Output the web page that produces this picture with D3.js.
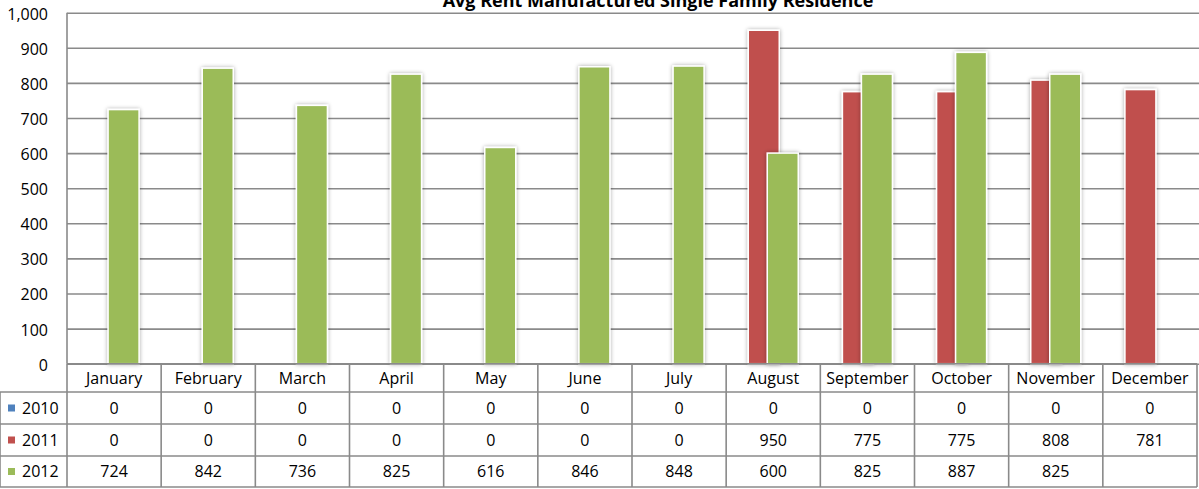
<!DOCTYPE html>
<meta charset="utf-8">
<script src="https://d3js.org/d3.v7.min.js"></script>
<style>
  body { margin: 0; background: #fff; }
  text { font-family: "Open Sans", sans-serif; fill: #000; }
</style>
<div id="chart"></div>
<script>

  // data
  var months = ["January", "February", "March", "April", "May", "June", "July",
    "August", "September", "October", "November", "December"];
  var years = ["2010", "2011", "2012"];
  var rent2010 = [0, 0, 0, 0, 0, 0, 0, 0, 0, 0, 0, 0];
  var rent2011 = [0, 0, 0, 0, 0, 0, 0, 950, 775, 775, 808, 781];
  var rent2012 = [724, 842, 736, 825, 616, 846, 848, 600, 825, 887, 825, null];
  var yTicks = [0, 100, 200, 300, 400, 500, 600, 700, 800, 900, 1000];
  var colors = ["#4F81BD", "#C0504D", "#9BBB59"];

  var series = [rent2010, rent2011, rent2012];

  var W = 1199, H = 489;
  var plotLeft = 67, plotRight = 1197, plotTop = 12.7, plotBottom = 363.7;
  var gridColor = "#8a8a8a";

  var svg = d3.select("#chart").append("svg")
    .attr("width", W)
    .attr("height", H);

  // soft shadow behind bars
  var defs = svg.append("defs");
  var f = defs.append("filter").attr("id", "shadow")
    .attr("x", "-30%").attr("y", "-10%").attr("width", "160%").attr("height", "120%");
  f.append("feGaussianBlur").attr("in", "SourceAlpha").attr("stdDeviation", 2).attr("result", "blur");
  f.append("feComponentTransfer").attr("in", "blur").attr("result", "soft")
    .append("feFuncA").attr("type", "linear").attr("slope", 0.35);
  var merge = f.append("feMerge");
  merge.append("feMergeNode").attr("in", "soft");
  merge.append("feMergeNode").attr("in", "SourceGraphic");

  // scales
  var x = d3.scaleBand().domain(months).range([plotLeft, plotRight]).padding(0);
  var xSeries = d3.scalePoint().domain(years).range([-28.5, 9.5]);
  var barW = 31;
  var y = d3.scaleLinear().domain([0, 1000]).range([plotBottom, plotTop]);

  // gridlines + y labels
  var yAxis = svg.append("g")
    .attr("transform", "translate(" + plotLeft + ",0)")
    .call(d3.axisLeft(y).tickValues(yTicks).tickFormat(d3.format(","))
      .tickSizeInner(-(W - plotLeft)).tickSizeOuter(0).tickPadding(19));
  yAxis.select(".domain").remove();
  yAxis.selectAll(".tick line").attr("stroke", gridColor).attr("stroke-width", 1.6);
  yAxis.selectAll(".tick text")
    .style("font-family", "Open Sans, sans-serif")
    .style("font-size", "16px")
    .attr("fill", "#000")
    .attr("dy", "0.4em");

  // vertical axis line
  svg.append("line")
    .attr("x1", plotLeft).attr("x2", plotLeft)
    .attr("y1", plotTop).attr("y2", plotBottom)
    .attr("stroke", gridColor).attr("stroke-width", 1.6);

  // bars
  series.forEach(function (vals, si) {
    svg.append("g")
      .selectAll("rect")
      .data(vals.map(function (v, i) { return { m: months[i], v: v }; })
        .filter(function (d) { return d.v; }))
      .enter()
      .append("rect")
      .attr("x", function (d) { return x(d.m) + x.bandwidth() / 2 + xSeries(years[si]) - barW / 2; })
      .attr("y", function (d) { return y(d.v); })
      .attr("width", barW)
      .attr("height", function (d) { return y(0) - y(d.v); })
      .attr("fill", colors[si])
      .attr("stroke", "#fff")
      .attr("stroke-width", 1.5)
      .attr("filter", "url(#shadow)");
  });

  // title (cut off at the top, as in the original)
  svg.append("text")
    .attr("x", 658)
    .attr("y", 7)
    .attr("text-anchor", "middle")
    .style("font-weight", "bold")
    .style("font-size", "18px")
    .text("Avg Rent Manufactured Single Family Residence");

  // data table
  var rowEdges = [363.7, 392, 424, 456, 487];
  var table = svg.append("g");
  function hline(x1, x2, yy) {
    table.append("line").attr("x1", x1).attr("x2", x2).attr("y1", yy).attr("y2", yy)
      .attr("stroke", gridColor).attr("stroke-width", 1.6);
  }
  function vline(xx, y1, y2) {
    table.append("line").attr("x1", xx).attr("x2", xx).attr("y1", y1).attr("y2", y2)
      .attr("stroke", gridColor).attr("stroke-width", 1.6);
  }
  hline(plotLeft, plotRight, rowEdges[0]);
  for (var r = 1; r < rowEdges.length; r++) hline(0, plotRight, rowEdges[r]);
  vline(0, rowEdges[1], rowEdges[4]);
  months.forEach(function (m) { vline(x(m), rowEdges[0], rowEdges[4]); });
  vline(plotRight, rowEdges[0], rowEdges[4]);

  // month header
  table.selectAll(".mlabel")
    .data(months)
    .enter().append("text")
    .attr("x", function (d) { return x(d) + x.bandwidth() / 2; })
    .attr("y", (rowEdges[0] + rowEdges[1]) / 2)
    .attr("dy", "0.36em")
    .attr("text-anchor", "middle")
    .style("font-size", "16px")
    .text(function (d) { return d; });

  // rows
  series.forEach(function (vals, si) {
    var cy = (rowEdges[si + 1] + rowEdges[si + 2]) / 2;
    table.append("rect")
      .attr("x", 8).attr("y", cy - 3.5)
      .attr("width", 7).attr("height", 7)
      .attr("fill", colors[si]);
    table.append("text")
      .attr("x", 22).attr("y", cy).attr("dy", "0.36em")
      .style("font-size", "16px")
      .text(years[si]);
    table.selectAll(".v" + si)
      .data(vals.map(function (v, i) { return { m: months[i], v: v }; }))
      .enter().append("text")
      .attr("x", function (d) { return x(d.m) + x.bandwidth() / 2; })
      .attr("y", cy)
      .attr("dy", "0.36em")
      .attr("text-anchor", "middle")
      .style("font-size", "16px")
      .text(function (d) { return d.v === null ? "" : d.v; });
  });

</script>
